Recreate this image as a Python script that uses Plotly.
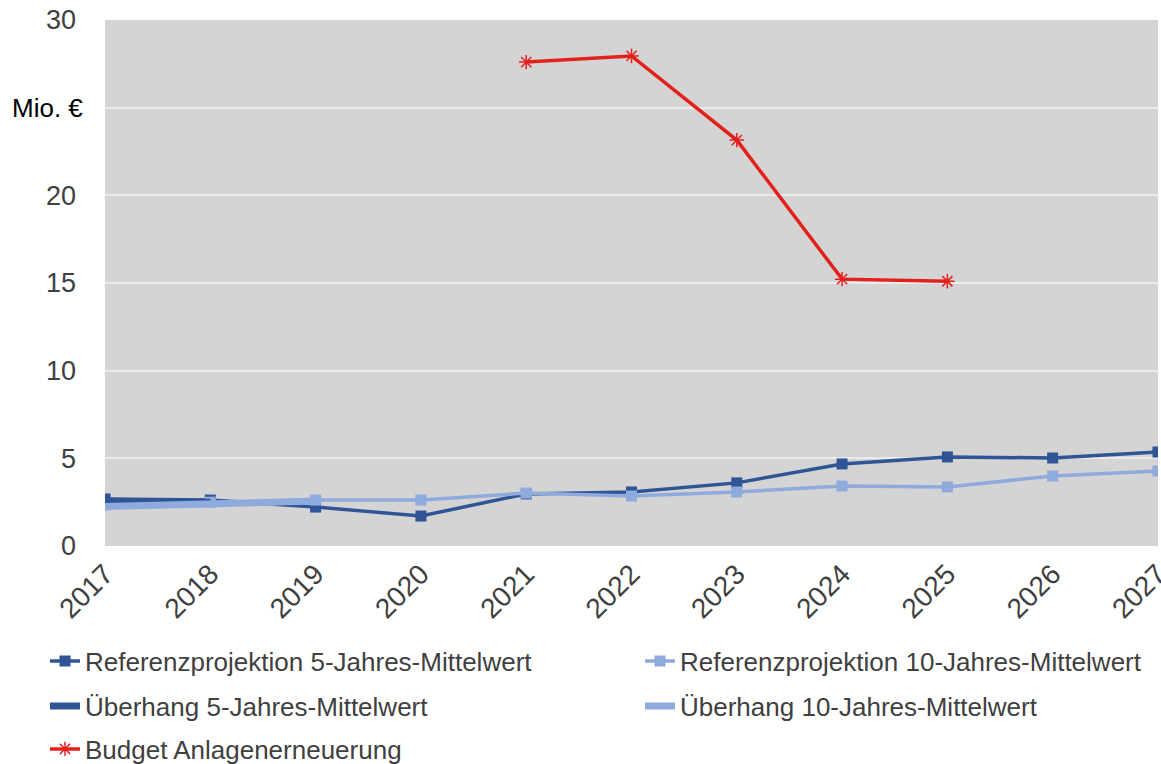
import plotly.graph_objects as go

years = [2017, 2018, 2019, 2020, 2021, 2022, 2023, 2024, 2025, 2026, 2027]
ref5 = [2.68, 2.62, 2.22, 1.71, 2.97, 3.08, 3.60, 4.68, 5.08, 5.02, 5.36]
ref10 = [2.34, 2.50, 2.62, 2.62, 3.02, 2.85, 3.08, 3.42, 3.37, 3.99, 4.28]
ueb_years5 = [2017, 2018]
ueb5 = [2.55, 2.50]
ueb_years10 = [2017, 2018, 2019]
ueb10 = [2.25, 2.42, 2.56]
budget_years = [2021, 2022, 2023, 2024, 2025]
budget = [27.6, 27.95, 23.15, 15.22, 15.10]

ytick_vals = [0, 5, 10, 15, 20, 25, 30]
ytick_text = ["0", "5", "10", "15", "20", "", "30"]

DARK = "#2F5597"
LIGHT = "#8FAADC"
RED = "#E3201B"
FONT = "Liberation Sans, Arial, sans-serif"

fig = go.Figure()
fig.add_trace(go.Scatter(x=years, y=ref5, mode="lines+markers",
                         name="Referenzprojektion 5-Jahres-Mittelwert",
                         line=dict(color=DARK, width=3.5),
                         marker=dict(symbol="square", size=11, color=DARK),
                         legend="legend"))
fig.add_trace(go.Scatter(x=years, y=ref10, mode="lines+markers",
                         name="Referenzprojektion 10-Jahres-Mittelwert",
                         line=dict(color=LIGHT, width=3.5),
                         marker=dict(symbol="square", size=11, color=LIGHT),
                         legend="legend2"))
fig.add_trace(go.Scatter(x=ueb_years5, y=ueb5, mode="lines",
                         name="Überhang 5-Jahres-Mittelwert",
                         line=dict(color=DARK, width=7),
                         legend="legend3"))
fig.add_trace(go.Scatter(x=ueb_years10, y=ueb10, mode="lines",
                         name="Überhang 10-Jahres-Mittelwert",
                         line=dict(color=LIGHT, width=7),
                         legend="legend4"))
fig.add_trace(go.Scatter(x=budget_years, y=budget, mode="lines+markers",
                         name="Budget Anlagenerneuerung",
                         line=dict(color=RED, width=3.5),
                         marker=dict(symbol="asterisk-open", size=12,
                                     line=dict(color=RED, width=1.5)),
                         legend="legend5"))

L, R, T, B = 105, 3, 20, 218
W, H = 1161, 764
pw, ph = W - L - R, H - T - B

def px_x(px):
    return (px - L) / pw

def px_y(py):
    return (H - B - py) / ph

legend_font = dict(family=FONT, size=26, color="#404040")
def leg(xpx, ypx):
    return dict(x=px_x(xpx), y=px_y(ypx), xanchor="left", yanchor="middle",
                orientation="h", font=legend_font, bgcolor="rgba(0,0,0,0)",
                borderwidth=0)

fig.update_layout(
    width=W, height=H,
    margin=dict(l=L, r=R, t=T, b=B, autoexpand=False),
    paper_bgcolor="white",
    plot_bgcolor="#D4D4D4",
    font=dict(family=FONT, color="#404040"),
    showlegend=True,
    legend=leg(45, 661),
    legend2=leg(640, 661),
    legend3=leg(45, 706),
    legend4=leg(640, 706),
    legend5=leg(45, 749),
    xaxis=dict(range=[2016.9995, 2027.0005], tickmode="array", tickvals=years,
               ticktext=[str(y) for y in years], tickangle=-45,
               tickfont=dict(family=FONT, size=28, color="#404040"),
               showgrid=False, zeroline=False, showline=False, ticks="",
               automargin=False, ticklabeloverflow="allow",
               ticklabelstandoff=5),
    yaxis=dict(range=[0, 30], tickmode="array", tickvals=ytick_vals,
               ticktext=ytick_text,
               tickfont=dict(family=FONT, size=27, color="#404040"),
               showgrid=True, gridcolor="#EBEBEB", gridwidth=2,
               zeroline=False, showline=False, ticks="", ticklabelstandoff=28,
               automargin=False),
    annotations=[dict(text="Mio. €", xref="paper", yref="y", x=px_x(85), y=25,
                      xanchor="right", yanchor="middle", showarrow=False,
                      font=dict(family=FONT, size=26, color="#000000"))],
)

fig.write_html("out.html")
